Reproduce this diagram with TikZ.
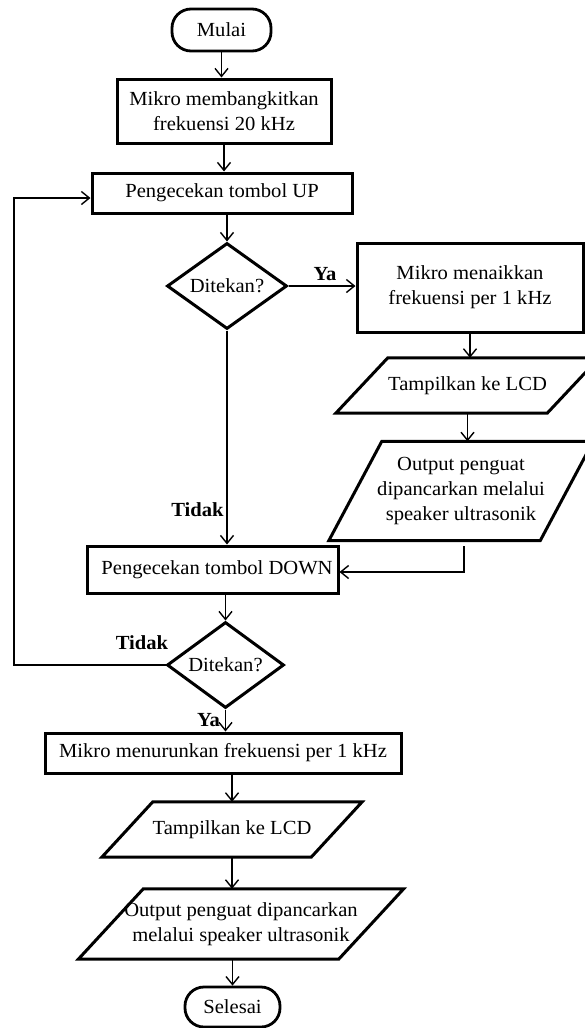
\documentclass[tikz,border=0pt]{standalone}
\usepackage{fontspec}
\setmainfont[FakeStretch=1.03]{Liberation Serif}
\usetikzlibrary{shapes.geometric,arrows.meta}
\newcommand\paral[2]{\draw[line width=3pt, line join=miter] ([xshift=-#2pt]#1.south west) -- ([xshift=-#2pt]#1.south east) -- ([xshift=#2pt]#1.north east) -- ([xshift=#2pt]#1.north west) -- cycle;}
\begin{document}
\begin{tikzpicture}[x=1pt,y=-1pt,
  base/.style={font=\fontsize{20}{25}\selectfont, align=center, inner sep=0pt},
  proc/.style={base, draw, line width=3pt, rectangle},
  term/.style={base, draw, line width=2.8pt, rounded corners=19pt},
  dec/.style={base, draw, line width=3pt, diamond, aspect=1.4},
  io/.style={base},
  conn/.style={line width=1.4pt, -{Straight Barb[length=8pt,width=13pt]}},
  lab/.style={font=\fontsize{20}{24}\selectfont\bfseries, inner sep=0pt}]
\clip (0,0) rectangle (585,1028);
\fill[white] (0,0) rectangle (585,1028);

\node[term, minimum width=99pt, minimum height=42pt] (start) at (221.5,30) {Mulai};
\node[proc, minimum width=214pt, minimum height=64pt] (b1) at (224,111) {Mikro membangkitkan\\frekuensi 20 kHz};
\node[proc, minimum width=260pt, minimum height=40pt] (up) at (222,193) {Pengecekan tombol UP};
\node[dec, minimum width=120pt, minimum height=86pt] (d1) at (227,286) {Ditekan?};
\node[proc, minimum width=226pt, minimum height=89pt] (b3) at (470,287.5) {Mikro menaikkan\\frekuensi per 1 kHz};
\node[io, minimum width=211pt, minimum height=55pt] (p1) at (467.5,385.5) {Tampilkan ke LCD};
\node[io, minimum width=211pt, minimum height=99pt] (p2) at (461,491) {Output penguat\\dipancarkan melalui\\speaker ultrasonik};
\node[proc, minimum width=251pt, minimum height=47pt] (down) at (212.5,569.5) {\hspace*{9pt}Pengecekan tombol DOWN};
\node[dec, minimum width=117pt, minimum height=86pt] (d2) at (225.5,665) {Ditekan?};
\node[proc, minimum width=356pt, minimum height=40pt] (b4) at (223,753) {Mikro menurunkan frekuensi per 1 kHz};
\node[io, minimum width=209pt, minimum height=55pt] (p3) at (232,829.5) {Tampilkan ke LCD};
\node[io, minimum width=260pt, minimum height=70pt] (p4) at (241,924) {Output penguat dipancarkan\\melalui speaker ultrasonik};
\node[term, minimum width=95pt, minimum height=40pt] (end) at (232.5,1007) {Selesai};

\paral{p1}{26}
\paral{p2}{26.5}
\paral{p3}{25.5}
\paral{p4}{32.5}

\node[lab] (ya1) at (325,274) {Ya};
\node[lab] (tidak1) at (197.5,510) {Tidak};
\node[lab] (tidak2) at (142,643) {Tidak};
\node[lab] (ya2) at (208.5,720) {Ya};

\coordinate (c1) at (464,546);
\coordinate (c2) at (464,572);
\coordinate (l1) at (14,665);
\coordinate (l2) at (14,198);

\draw[conn] (start.south) -- (start.south |- b1.north);
\draw[conn] (b1.south) -- (b1.south |- up.north);
\draw[conn] (d1.north |- up.south) -- (d1.north);
\draw[conn] (d1.east) -- (d1.east -| b3.west);
\draw[conn] (b3.south) -- (b3.south |- p1.north);
\draw[conn] (p1.south) -- (p1.south |- p2.north);
\draw[conn] (c1) -- (c2) -- (c2 -| down.east);
\draw[conn] (d1.south) -- (d1.south |- down.north);
\draw[conn] (d2.north |- down.south) -- (d2.north);
\draw[conn] (d2.west) -- (l1) -- (l2) -- (l2 -| up.west);
\draw[conn] (d2.south) -- (d2.south |- b4.north);
\draw[conn] (p3.north |- b4.south) -- (p3.north);
\draw[conn] (p3.south) -- (p3.south |- p4.north);
\draw[conn] (end.north |- p4.south) -- (end.north);
\end{tikzpicture}
\end{document}
